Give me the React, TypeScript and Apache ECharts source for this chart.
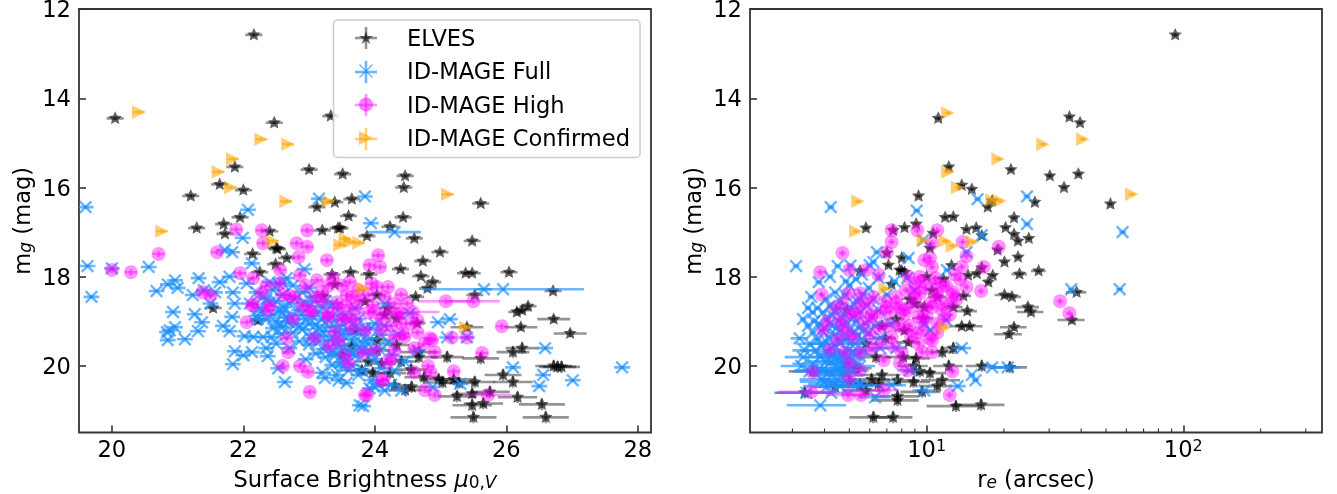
import React, { useEffect, useRef } from "react";
import * as echarts from "echarts";

type P = number[];

const seriesNames = ["ELVES", "ID-MAGE Full", "ID-MAGE High", "ID-MAGE Confirmed"];
const muTicks = [20, 22, 24, 26, 28];
const reTicks = [10, 100];
const reMinorTicks = [3, 4, 5, 6, 7, 8, 9, 20, 30, 40, 50, 60, 70, 80, 90, 200, 300];

// left panel: [mu0V, mg, optional xerr]
const elvesMu: P[] = [
  [22.16,12.58],[20.05,14.45],[22.47,14.55],[23.33,14.4],[21.87,15.54],[23.0,15.6],[23.51,15.7],[21.64,15.93],[22.0,16.06],[21.2,16.19],
  [23.12,16.44],[23.39,16.33],[24.46,15.74],[24.44,16.0],[23.65,16.26],[25.61,16.36],[23.6,16.64],[24.43,16.67],[23.47,16.91],[24.23,16.88],
  [23.88,17.09],[24.6,17.14],[25.48,17.2],[21.95,16.67],[21.7,16.82],[21.29,16.91],[21.72,17.04],[22.4,16.98],[23.2,16.96],[23.44,16.91],
  [22.5,17.36],[22.14,17.49],[22.52,17.38],[22.66,17.58],[22.49,17.72],[22.25,17.9],[23.63,17.9],[23.91,17.95],[24.39,17.83],[24.73,17.65],
  [24.99,17.45],[24.7,17.99],[24.88,18.12],[24.8,18.26],[24.62,18.45],[23.21,18.43],[21.54,18.7],[23.39,18.17],[24.03,18.41],[24.2,18.7],
  [25.38,17.92],[25.48,17.92],[26.04,17.9],[25.52,18.41],[26.33,18.66],[26.24,18.75],[26.16,18.79],[26.71,18.32],[26.72,18.95,0.25],[26.97,19.27,0.25],
  [26.22,19.13,0.25],[25.4,19.13,0.25],[26.24,19.6,0.25],[26.1,19.69,0.25],[25.1,19.8,0.25],[24.67,19.69,0.28],[24.67,19.8,0.28],[25.61,19.83,0.28],
  [26.78,20.02,0.28],[26.72,20.0,0.28],[26.84,20.02,0.28],[25.95,20.2,0.28],[26.1,20.36,0.3],[25.52,20.36,0.3],[25.28,20.38,0.3],[24.97,20.3,0.3],
  [25.25,20.68,0.3],[25.48,20.62,0.3],[25.75,20.58,0.3],[26.17,20.7,0.3],[25.48,20.88,0.3],[25.65,20.84,0.3],[26.54,20.86,0.35],[25.5,21.15,0.35],
  [26.6,21.15,0.35],[24.46,20.54,0.25],[22.22,18.98],[24.03,19.65,0.2],[24.33,19.53,0.2],[23.8,20.1,0.22],[23.97,20.16,0.25],[24.23,20.16,0.25],
  [24.3,20.43,0.25],[24.56,20.47,0.25],[25.03,20.37,0.3],[24.33,18.93],[24.64,19.04],[23.7,19.2],[24.03,19.42,0.2],[25.2,20.3,0.3],[23.9,19.9,0.2],
  [24.1,19.95,0.22],[23.5,19.75,0.2],[23.65,19.55,0.2],[24.4,19.9,0.25],[24.55,20.08,0.25],[24.75,20.25,0.3],[23.85,18.55],[24.15,18.85],[23.35,17.95],
];
const fullMu: P[] = [
  [19.6,16.44],[19.63,17.76],[19.69,18.45],[20.0,17.81],[20.56,17.78],[20.68,18.32],[20.85,18.17],[20.96,18.08],[21.0,18.25],[21.23,18.41],
  [21.32,18.03],[20.93,18.79],[21.26,18.84],[21.37,19.02],[20.88,19.2],[20.84,19.24],[20.96,19.13],[20.85,19.42],[21.11,19.4],[21.31,19.22],
  [21.57,18.35],[21.64,18.12],[21.79,18.0],[21.72,17.4],[21.83,17.45],[21.84,18.35],[22.05,18.15],[21.87,18.6],[21.83,18.9],[21.69,19.1],
  [21.79,19.22],[22.02,19.33],[21.87,19.67],[22.0,19.76],[22.13,19.69],[21.84,19.96],[22.37,19.78],[22.53,20.05],[22.63,20.36],[23.24,20.27],
  [23.42,20.2],[23.57,20.38],[23.77,20.88],[22.13,17.7],[22.22,18.95],[22.15,19.35],[22.3,19.35],[22.43,19.35],[22.58,19.28],[22.4,18.12],
  [22.66,18.03],[22.53,18.15],[22.07,16.5],[21.99,17.13],[23.15,16.25],[23.85,16.2],[23.94,16.8],[24.3,17.0,0.4],[22.93,17.83],[22.2,18.35],
  [21.4,18.3],[21.5,18.6],[25.66,18.28],[25.95,18.28,1.23],[24.96,19.02],[25.14,18.95],[25.1,19.36],[25.4,19.36],[26.59,19.6],[26.1,20.03],
  [26.56,20.2],[27.01,20.32],[26.5,20.45],[27.76,20.03],[24.15,18.6],[24.53,18.82],[24.88,20.47],[24.0,20.47],[24.15,20.55],[24.4,20.55],[23.82,20.9],
  [22.3,18.45],[22.45,18.3],[22.6,18.4],[22.75,18.2],[22.9,18.35],[23.05,18.45],[22.1,18.6],[22.25,18.7],[22.4,18.58],[22.55,18.75],[22.7,18.6],
  [22.85,18.75],[23.0,18.65],[23.15,18.8],[22.2,18.88],[22.35,18.95],[22.5,19.0],[22.65,18.92],[22.8,19.05],[22.95,18.95],[23.1,19.08],[23.3,18.98],
  [23.45,19.1],[22.45,19.15],[22.6,19.12],[22.75,19.25],[22.9,19.18],[23.05,19.3],[23.2,19.22],[23.35,19.35],[23.5,19.28],[23.65,19.4],[23.8,19.3],
  [22.85,19.45],[23.0,19.52],[23.15,19.45],[23.3,19.6],[23.45,19.52],[23.6,19.65],[23.75,19.58],[23.9,19.5],[24.05,19.6],[24.2,19.48],[23.1,19.72],
  [23.25,19.8],[23.4,19.75],[23.55,19.85],[23.7,19.78],[23.85,19.72],[24.0,19.85],[23.35,19.98],[23.5,20.02],[23.65,19.98],[23.8,20.08],[24.1,20.05],
  [23.2,20.15],[23.75,20.2],[23.95,20.32],[24.3,20.1],[24.45,19.9],[24.35,19.3],[24.15,19.1],[24.0,19.05],[23.75,18.95],[23.55,18.85],[23.4,18.7],[23.7,18.7],
  [23.25,18.55],[23.0,18.25],[22.6,18.15],[23.95,19.15],[22.95,19.85],[22.7,19.6],[22.5,19.5],[22.35,19.6],[25.3,20.4],[24.65,19.65],[24.25,19.75],
  [22.35,18.5],[22.5,18.55],[22.62,18.68],[22.78,18.5],[22.92,18.58],[23.08,18.55],[23.2,18.68],[23.35,18.62],[22.28,18.78],[22.45,18.85],[22.6,18.8],
  [22.72,18.88],[22.88,18.85],[23.05,18.88],[23.2,18.95],[23.35,18.88],[23.48,18.95],[23.6,18.98],[22.55,19.1],[22.68,19.02],[22.85,19.12],[23.0,19.05],
  [23.15,19.15],[23.3,19.12],[23.42,19.22],[23.58,19.18],[23.72,19.1],[23.85,19.15],[23.02,19.38],[23.18,19.32],[23.32,19.42],[23.48,19.4],[23.62,19.28],
  [23.78,19.45],[23.92,19.38],[24.1,19.3],[23.22,19.62],[23.38,19.68],[23.52,19.62],[23.68,19.7],[23.82,19.65],[23.95,19.72],[23.48,19.92],[23.6,20.1],[23.92,20.5],
  [24.05,20.4],[24.25,20.42],[23.45,20.32],
];
const highMu: P[] = [
  [20.0,17.85],[20.29,17.9],[20.71,17.49],[21.38,18.35],[21.95,17.92],[21.6,17.45],[22.3,17.25],[22.81,17.25],[22.97,17.33],[23.27,17.63],
  [22.05,19.02],[22.15,18.63],[22.37,18.75],[22.27,18.37],[22.68,19.69],[22.66,19.38],[22.86,20.0],[22.98,20.13],[23.01,20.58],[23.08,19.38],
  [23.29,18.91],[23.04,18.79],[23.39,19.24],[23.54,19.76],[23.85,20.65],[23.6,19.94],[21.89,16.94],[22.28,16.96],[22.97,16.96],[22.84,17.56],
  [24.05,17.52],[23.92,17.74],[24.08,17.78],[21.5,18.42],[22.56,17.85],[22.15,18.03],[23.12,18.08],[23.36,18.03],[23.62,18.12],[24.03,18.23],
  [24.2,18.23],[23.57,18.41],[23.77,18.52],[22.6,18.41],[22.78,18.45],[24.49,18.6],[24.58,18.79,0.4],[25.08,18.55,0.4],[25.5,18.55,0.4],[25.93,19.11],
  [24.84,19.38],[24.91,19.69],[25.17,19.36],[25.4,19.36],[25.63,19.71],[24.81,20.0],[24.85,20.15],[25.2,20.12],[24.76,20.54],[24.91,20.65],
  [25.72,20.65,0.35],[24.6,20.14],[24.12,20.32],[23.88,20.65],[24.35,18.85],[24.55,19.05],[24.45,19.35],[24.3,19.35],[23.9,18.8],[24.1,18.95],
  [23.7,18.95],[23.45,18.7],[22.9,18.65],[23.2,18.55],[23.5,18.95],[23.65,19.15],[23.85,19.2],[23.3,19.55],[22.75,18.95],[24.0,19.65],[24.25,19.85],
  [22.86,17.97],[22.71,18.43],[22.4,18.64],[22.13,18.64],[23.01,18.75],[23.29,18.82],[23.57,18.64],[23.42,18.57],[23.97,18.64],[24.18,18.79],[24.38,18.82],
  [23.82,19.71],[24.11,20.32],[24.18,19.92],[24.43,19.27],[24.65,18.98],[24.87,19.42],[23.57,18.91],[22.6,20.0],[23.5,18.2],[23.95,18.15],[22.95,18.2],[24.4,18.4],
  [23.3,18.2],[23.75,18.3],[24.15,18.45],[24.3,18.6],[23.9,18.4],[24.0,18.8],[23.65,18.45],[24.25,19.1],[24.4,19.05],[24.1,19.2],[23.2,18.35],[22.35,18.2],[22.55,18.15],
  [23.7,18.72],[24.65,19.25],[24.75,19.5],[24.6,19.6],[24.3,19.65],[23.45,19.45],[23.1,18.45],
];
const confMu: P[] = [
  [20.41,14.31],[22.27,14.92],[22.68,15.03],[21.84,15.36],[21.62,15.65],[21.81,16.0],[22.65,16.31],[23.29,16.31],[20.76,16.98],[22.45,17.2],
  [25.11,16.15],[23.47,17.29],[23.55,17.15],[23.62,17.22],[23.76,17.24],[23.82,18.26],[25.38,19.13],
];

// right panel: [re, mg, optional xerr]
const elvesRe: P[] = [
  [93,12.58],[36,14.42],[39.6,14.55],[11.1,14.45],[21.3,15.6],[12.2,15.54],[30.2,15.74],[39,15.7],[34.3,16.0],[26.4,16.33],[52,16.37],[9.3,16.19],
  [13.7,15.95],[15,16.04],[17.3,16.44],[18,16.3],[11.8,16.67],[12.7,16.66],[9.1,16.82],[8.2,16.9],[7.4,16.96],[5.8,16.91],[14.3,16.94],[15.6,16.91],
  [16.4,17.08],[20.3,16.9],[21.9,16.68],[21.9,17.05],[22.7,17.2],[25,17.14],[22.7,17.56],[20.1,17.67],[23,17.94,1.6],[27.3,17.87,1.8],[20.1,18.41,1.7],
  [21.5,18.45,1.8],[24.8,18.68,2.6],[25.5,18.79,3],[21.9,19.13,2.6],[20.9,19.29,2.6],[36.8,18.97,4.5],[38.4,18.35,3.5],[21.1,20.03,3.5],[10.6,17.03],
  [10.3,17.36],[7,17.47],[8,17.58],[7.1,17.74],[5.5,17.87],[8,17.87],[8.2,17.9],[7.85,17.85],[7.3,18.17],[14.5,17.97],[15.7,17.93],[17.4,18.12],
  [16.4,17.8],[18.1,17.97],[18.9,17.4],[13.9,18.43,1],[12.7,18.68,1.1],[14.4,18.77,1.3],[11,18.45,0.9],[9.8,18.68,0.8],[4.9,18.75],[13.7,19.11,1.5],
  [14.7,19.11,1.8],[11.5,19.69,1.2],[12.7,19.6,1.4],[16.4,20.0,2.2],[8.5,19.47,0.9],[8.2,19.2,0.7],[9.7,18.93,0.9],[9.1,19.83,1.2],[8.1,19.8,1.2],
  [6.9,19.38,0.7],[10.3,20.16,1.6],[11.5,20.32,2],[8.9,20.36,1.4],[9.6,20.58,1.7],[7.7,20.32,1.6],[6.7,20.2,1.2],[9.4,20.12,1.3],[7.7,20.68,1.6],
  [7.7,20.77,1.6],[13,20.9,3],[16.3,20.87,3.8],[6.2,21.15,1.2],[7.4,21.15,1.4],[4.7,20.14,0.8],[4.4,20.47,0.8],[5,20.36,0.9],[5.5,20.43,1],[3.35,20.6,0.8],
  [3.6,20.12,0.7],[4.85,19.95,0.7],[5.3,20.05,0.8],[6.35,19.8,0.9],[5.8,19.5,0.7],[6.7,19.1,0.6],[8.6,18.5,0.6],[10.5,18.3,0.6],[11.6,18.05,0.6],[10,18.0],
  [12.5,17.75],[9,18.6,0.7],[7.6,18.95,0.6],[8.9,20.0,1.2],[6.5,20.4,1.2],[5.8,20.55,1.1],[6.1,20.3,1.1],[12.2,20.0,1.6],[11,20.45,1.6],
];
const fullRe: P[] = [
  [4.23,16.44],[9.15,16.52],[15.8,16.26],[16.4,17.07],[24.6,16.2],[24.6,16.82],[58,17.0],[36.6,18.28],[56.5,18.28],[20.7,20.03,2.6],[14.3,17.45],
  [6.4,17.45],[8.5,17.58],[9.7,17.18],[3.1,17.76],[4.5,17.76],[6,17.74],[12,17.85],[8.4,18.03],[4.2,18.0],[3.8,18.12],[3.55,18.45],[4.4,18.35],[3.75,18.7],
  [3.6,18.8],[6.5,18.03],[6.2,17.67],[3.2,19.38,0.25],[3.3,19.8,0.5],[3.4,20.6,0.8],[3.85,20.88,1.0],[3.5,20.12,0.5],[9,18.3],[11.9,18.97],[13.7,19.6,1.2],
  [18,20.03,1.6],[13.2,20.45,1],[15,20.2],[15.5,20.32],[6.6,19.36,0.5],[6.6,19.6,0.5],[5.5,20.43,0.9],[7.3,20.43,1],[6.3,20.7,0.9],[3.3,18.95],[3.45,19.1],
  [3.6,19.25],[3.5,19.5,0.4],[3.7,19.65,0.5],[3.6,19.95,0.6],[3.75,20.1,0.7],[3.9,20.3,0.7],[4.1,20.45,0.8],[3.95,19.5,0.4],[4.1,19.7,0.5],[4.25,19.9,0.6],
  [4.05,18.5],[4.2,18.65],[4.4,18.8],[4.6,18.55],[4.8,18.4],[5,18.2],[5.3,18.05],[4.1,18.95],[4.3,19.1],[4.55,19.0],[4.8,18.85],[5.05,18.7],[5.35,18.55],
  [5.65,18.4],[5.95,18.25],[3.9,19.2],[4.15,19.35],[4.4,19.3],[4.65,19.2],[4.9,19.05],[5.2,18.9],[5.5,18.8],[5.85,18.65],[6.2,18.5],[4.4,19.55],[4.6,19.5],
  [4.9,19.4],[5.15,19.25],[5.45,19.15],[5.8,19.05],[6.1,18.9],[6.5,18.75],[4.45,19.8,0.6],[4.7,19.75,0.6],[4.95,19.65,0.6],[5.25,19.5,0.6],[5.6,19.4,0.6],[5.95,19.25],
  [6.3,19.1],[4.5,20.05,0.7],[4.75,19.95,0.7],[5.05,19.85,0.7],[5.35,19.75,0.7],[5.7,19.65,0.7],[4.3,20.2,0.8],[4.55,20.3,0.8],[4.85,20.2,0.8],[5.15,20.1,0.8],
  [5.5,20.0,0.8],[4.25,20.6,0.9],[7.2,19.05,0.7],[7.6,19.6,0.8],[8.6,20.1,0.9],[9.8,20.55,1],[10.3,19.2],[7,18.4],[7.5,18.1],[5.05,17.75],[5.6,17.95],[4.85,18.1],
  [9.8,19.05],[3.35,19.65,0.35],[3.25,20.0,0.55],[5.3,20.45,0.9],
  [3.95,18.8],[4.25,18.85],[4.5,18.7],[4.7,18.9],[4.95,18.8],[5.2,18.6],[5.5,18.5],[3.8,19.05],[4,19.15],[4.2,19.05],[4.45,19.15],[4.75,19.05],[5,19.2],[5.3,19],
  [3.75,19.4],[3.9,19.55],[4.05,19.45],[4.25,19.6],[4.5,19.4],[4.75,19.4],[5.05,19.5],[5.4,19.3],[5.7,19.2],[3.85,19.8,0.5],[4.05,19.9,0.6],[4.3,19.75,0.6],[4.6,19.85,0.6],
  [4.85,19.9,0.7],[5.15,19.7,0.7],[3.9,20.1,0.7],[4.15,20.15,0.7],[4.4,20.05,0.7],[4.7,20.1,0.8],[4,20.35,0.8],[4.25,20.4,0.8],[4.6,20.45,0.8],[4.9,20.35,0.8],[3.45,18.7],[3.65,19],
];
const highRe: P[] = [
  [7.3,16.96],[9.2,16.96],[11,16.96],[7.3,17.22],[10.5,17.25],[13.8,17.22],[19.1,17.33],[4.7,17.47],[7,17.45],[3.85,17.9],[5,17.85],[5.8,17.85],[6.5,17.96],
  [9.8,17.63],[10.3,17.58],[14.3,17.54],[13.7,17.78],[16.7,17.78],[16.3,18.32],[13.5,18.06],[14.3,18.23],[10.5,17.78],[9.4,18],[10.8,18.03],[12.6,18.41],
  [3.9,18.4],[4.95,18.37],[5.5,18.37],[6.2,18.45],[7.6,18.45],[4.4,18.7],[5,18.79],[6.1,18.86],[7.2,18.79],[8.6,18.68],[10.5,18.68],[11.5,18.6],[33.1,18.55],
  [36,18.82],[12.6,20.12],[12.3,20.65],[8.4,20.1],[7.87,19.94],[6.8,19.87],[9.6,19.69],[10.5,19.69],[3.6,20.14],[3.55,20.58,0.9],[5,19.94],[5.5,20.1],[5,20.27],
  [4.95,20.65,0.9],[5.55,20.65,0.9],[6.8,20.54,1],[4.2,19.63],[4.8,19.69],[5.5,19.7],[5.2,19.35],[6,19.3],[4.1,19],[4.7,19.1],[5.2,18.86],[6.1,18.9],[7.3,19.35],
  [9.1,19.27],[10.3,19.38],[9.7,19.2],[8.6,19.1],[7,19.1],[8.9,18.35],[9.6,18.1],[11.9,18.2],[10.9,18.45],[9.3,18.9],[12.3,18.85],[11,19.25],[7.9,18.7],[8.3,18.3],
  [12.9,17.95],[9,18.15],[11.6,18.2],[9.4,18.37],[11,18.37],[9,18.52],[10.3,18.6],[7.6,18.6],[7,18.68],[5.5,18.6],[4.7,18.6],[12.7,18.35],[11.5,18.75],[9.7,18.75],
  [8.1,18.75],[6.6,18.8],[5.5,18.8],[9.7,19.0],[8.2,19.15],[10.5,19.42],[6.6,19.5],[6.1,19.6],[10,18.9],[11.7,18.95],[10.8,18.15],
  [4.5,19.4],[4.9,19.25],[5.7,19.05],[6.5,19.15],[7.7,19.1],[8.2,18.85],[8.7,19.35],[9.3,19.5],[11,19.05],[12.4,18.6],[13.1,18.5],[9.9,18.25],[8.5,18],[6.9,18.55],[5.9,18.6],
  [4.6,18.95],[3.95,19.2],[7.4,19.55],[8,19.7],
];
const confRe: P[] = [
  [12.1,14.33],[19,15.36],[28.4,15.03],[40.6,14.92],[63,16.15],[12.1,15.65],[13.2,16.0],[5.4,16.31],[19.3,16.3],[18,16.28],[5.3,16.98],[11.8,17.2],[9.7,17.18],
  [12.6,17.31],[15.1,17.22],[6.9,18.27],[11.8,19.13],
];

const INK = "#333333";
const FONT = "DejaVu Sans";
const COLORS = ["#000000", "#1E90FF", "#FF00FF", "#FFA500"];
const ALPHA = [0.62, 0.68, 0.42, 0.55];
const BAR_ALPHA = [0.42, 0.65, 0.42, 0.5];

function shapeFor(kind: number, cx: number, cy: number, fill: string, alpha: number): any[] {
  if (kind === 0) {
    const pts: number[][] = [];
    for (let i = 0; i < 10; i++) {
      const r = i % 2 === 0 ? 7 : 3.4;
      const a = -Math.PI / 2 + (i * Math.PI) / 5;
      pts.push([cx + r * Math.cos(a), cy + r * Math.sin(a)]);
    }
    return [{ type: "polygon", shape: { points: pts }, style: { fill, opacity: alpha } }];
  }
  if (kind === 1) {
    const d = 5.8;
    const st = { stroke: fill, lineWidth: 2.4, opacity: alpha, fill: "none" };
    return [
      { type: "line", shape: { x1: cx - d, y1: cy - d, x2: cx + d, y2: cy + d }, style: st },
      { type: "line", shape: { x1: cx - d, y1: cy + d, x2: cx + d, y2: cy - d }, style: st },
    ];
  }
  if (kind === 2) {
    return [{ type: "circle", shape: { cx, cy, r: 7 }, style: { fill, opacity: alpha } }];
  }
  const h = 6.8;
  return [
    {
      type: "polygon",
      shape: { points: [[cx + h, cy], [cx - h, cy - h], [cx - h, cy + h]] },
      style: { fill, opacity: alpha },
    },
  ];
}

function pointSeries(kind: number, axisIndex: number, pts: P[], defaultXerr: (x: number) => number, yerrOf: (y: number) => number) {
  const color = COLORS[kind];
  return {
    type: "custom",
    name: seriesNames[kind],
    xAxisIndex: axisIndex,
    yAxisIndex: axisIndex,
    clip: true,
    z: 2 + kind,
    itemStyle: { color },
    silent: true,
    encode: { x: 0, y: 1 },
    data: pts.map((p) => [p[0], p[1], p[2] ?? defaultXerr(p[0]), yerrOf(p[1])]),
    renderItem: (_: any, api: any) => {
      const x = api.value(0);
      const y = api.value(1);
      const xe = api.value(2);
      const ye = api.value(3);
      const c = api.coord([x, y]);
      const l = api.coord([x - xe, y]);
      const r = api.coord([x + xe, y]);
      const t = api.coord([x, y - ye]);
      const b = api.coord([x, y + ye]);
      const st = { stroke: color, lineWidth: 2.6, opacity: BAR_ALPHA[kind], fill: "none" };
      return {
        type: "group",
        children: [
          { type: "line", shape: { x1: l[0], y1: c[1], x2: r[0], y2: c[1] }, style: st },
          { type: "line", shape: { x1: c[0], y1: t[1], x2: c[0], y2: b[1] }, style: st },
          ...shapeFor(kind, c[0], c[1], color, ALPHA[kind]),
        ],
      };
    },
  };
}

const yAxisBase = {
  type: "value",
  inverse: true,
  min: 12,
  max: 21.49,
  interval: 2,
  splitLine: { show: false },
  axisLine: { show: false },
  axisTick: { show: true, inside: true, length: 7, lineStyle: { color: INK, width: 1.6 } },
  axisLabel: { fontSize: 22.6, lineHeight: 17, color: "#000", fontFamily: FONT, margin: 8, showMaxLabel: false },
  name: "{a|m}{s|g}{a| (mag)}",
  nameLocation: "middle",
  nameGap: 46,
  nameRotate: 90,
  nameTextStyle: {
    rich: {
      a: { fontSize: 22.6, fontFamily: FONT, color: "#000" },
      s: { fontSize: 17, fontFamily: FONT, fontStyle: "italic", color: "#000", verticalAlign: "bottom", lineHeight: 20 },
    },
  },
};

const xRich = {
  a: { fontSize: 22.6, fontFamily: FONT, color: "#000" },
  i: { fontSize: 22.6, fontFamily: FONT, fontStyle: "italic", color: "#000" },
  s: { fontSize: 17, fontFamily: FONT, color: "#000", verticalAlign: "bottom", lineHeight: 20 },
  si: { fontSize: 17, fontFamily: FONT, fontStyle: "italic", color: "#000", verticalAlign: "bottom", lineHeight: 20 },
};

const LEGEND_ROWS = [38, 72, 105, 139];

export default function App() {
  const ref = useRef<HTMLDivElement>(null);
  useEffect(() => {
    if (!ref.current) return;
    const chart = echarts.init(ref.current, undefined, { renderer: "svg" });
    const muX = () => 0.13;
    const reX = (x: number) => x * 0.03;
    const yFaint = (y: number) => (y > 19.5 ? 0.13 : y > 18.5 ? 0.08 : 0.04);

    const minorTickSeries = {
      type: "custom",
      xAxisIndex: 1,
      yAxisIndex: 1,
      silent: true,
      z: 1,
      encode: { x: 0 },
      data: reMinorTicks.map((v) => [v]),
      renderItem: (_: any, api: any) => {
        const c = api.coord([api.value(0), 21.49]);
        return {
          type: "line",
          shape: { x1: c[0], y1: c[1], x2: c[0], y2: c[1] - 4 },
          style: { stroke: INK, lineWidth: 1.1 },
        };
      },
    };

    const legendMarks: any[] = [];
    LEGEND_ROWS.forEach((yy, i) => {
      const st = { stroke: COLORS[i], lineWidth: 2.6, opacity: BAR_ALPHA[i] };
      legendMarks.push({ type: "line", z: 20, shape: { x1: 355, y1: yy, x2: 377, y2: yy }, style: st });
      legendMarks.push({ type: "line", z: 20, shape: { x1: 366, y1: yy - 11, x2: 366, y2: yy + 11 }, style: st });
    });

    chart.setOption({
      animation: false,
      textStyle: { fontFamily: FONT },
      grid: [
        { left: 79, top: 9, width: 572, height: 423.5, show: true, borderColor: INK, borderWidth: 1.8, backgroundColor: "#fff", outerBoundsMode: "none" },
        { left: 750, top: 9, width: 572, height: 423.5, show: true, borderColor: INK, borderWidth: 1.8, backgroundColor: "#fff", outerBoundsMode: "none" },
      ],
      xAxis: [
        {
          type: "value",
          gridIndex: 0,
          min: 19.5,
          max: 28.2,
          splitLine: { show: false },
          axisLine: { show: false, onZero: false },
          axisTick: { show: true, inside: true, length: 7, lineStyle: { color: INK, width: 1.6 }, customValues: muTicks },
          axisLabel: { fontSize: 22.6, color: "#000", fontFamily: FONT, margin: 5, customValues: muTicks },
          name: "{a|Surface Brightness }{i|μ}{s|0,}{si|V}",
          nameLocation: "middle",
          nameGap: 35,
          nameTextStyle: { rich: xRich },
        },
        {
          type: "log",
          logBase: 10,
          gridIndex: 1,
          min: 2.05,
          max: 347,
          splitLine: { show: false },
          minorTick: { show: false },
          axisLine: { show: false, onZero: false },
          axisTick: { show: true, inside: true, length: 7, lineStyle: { color: INK, width: 1.6 }, customValues: reTicks },
          axisLabel: {
            fontSize: 22.6,
            color: "#000",
            fontFamily: FONT,
            margin: 5,
            customValues: reTicks,
            formatter: (v: number) => `{b|10}{u|${Math.round(Math.log10(v))}}`,
            rich: {
              b: { fontSize: 22.6, fontFamily: FONT, color: "#000" },
              u: { fontSize: 16, fontFamily: FONT, color: "#000", verticalAlign: "top", lineHeight: 22 },
            },
          },
          name: "{a|r}{si|e}{a| (arcsec)}",
          nameLocation: "middle",
          nameGap: 35,
          nameTextStyle: { rich: xRich },
        },
      ],
      yAxis: [
        { ...yAxisBase, gridIndex: 0 },
        { ...yAxisBase, gridIndex: 1 },
      ],
      legend: {
        show: true,
        orient: "vertical",
        left: 333.5,
        top: 20,
        padding: [6, 10, 8, 25.5],
        itemWidth: 14,
        itemHeight: 14,
        itemGap: 10.5,
        backgroundColor: "rgba(255,255,255,0.8)",
        borderColor: "#cccccc",
        borderWidth: 1.5,
        borderRadius: 4,
        selectedMode: false,
        z: 10,
        textStyle: { fontSize: 22.6, color: "#000", fontFamily: FONT, padding: [0, 0, 0, 29] },
        data: [
          {
            name: seriesNames[0],
            icon: "path://M7 0 L8.6 4.9 L14 4.9 L9.6 8 L11.3 13 L7 10 L2.7 13 L4.4 8 L0 4.9 L5.4 4.9 Z",
            itemStyle: { color: "rgba(0,0,0,0.6)" },
          },
          {
            name: seriesNames[1],
            icon: "path://M1 0 L7 6 L13 0 L14 1 L8 7 L14 13 L13 14 L7 8 L1 14 L0 13 L6 7 L0 1 Z",
            itemStyle: { color: "rgba(30,144,255,0.65)" },
          },
          { name: seriesNames[2], icon: "circle", itemStyle: { color: "rgba(255,0,255,0.5)" } },
          {
            name: seriesNames[3],
            icon: "path://M0 0 L14 7 L0 14 Z",
            itemStyle: { color: "rgba(255,165,0,0.6)" },
          },
        ],
      },
      graphic: legendMarks,
      series: [
        pointSeries(0, 0, elvesMu, muX, yFaint),
        pointSeries(1, 0, fullMu, () => 0.12, () => 0.03),
        pointSeries(2, 0, highMu, () => 0.09, () => 0.07),
        pointSeries(3, 0, confMu, () => 0.09, () => 0.04),
        pointSeries(0, 1, elvesRe, reX, yFaint),
        pointSeries(1, 1, fullRe, reX, () => 0.03),
        pointSeries(2, 1, highRe, reX, () => 0.07),
        pointSeries(3, 1, confRe, reX, () => 0.04),
        minorTickSeries,
      ],
    });
    return () => chart.dispose();
  }, []);
  return <div ref={ref} style={{ position: "fixed", left: 0, top: 0, width: 1337, height: 494 }} />;
}
